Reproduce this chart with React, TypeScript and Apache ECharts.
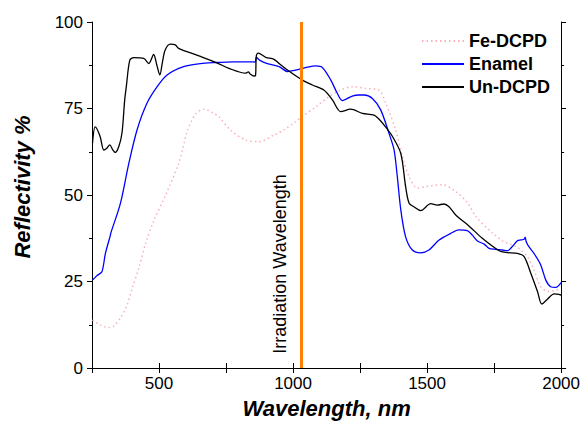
import React, { useEffect, useRef } from "react";
import * as echarts from "echarts";

// ---- Data ----
const xTickLabels = [500, 1000, 1500, 2000];
const yTickLabels = [0, 25, 50, 75, 100];
const irradiationNm = 1030;

const feDcpdNm = [252, 281, 313, 330, 356, 380, 400, 425, 450, 480, 525, 575, 606, 637, 668, 704, 724, 766, 823, 873, 928, 965, 1010, 1029, 1085, 1134, 1172, 1221, 1271, 1321, 1346, 1383, 1408, 1433, 1464, 1495, 1557, 1607, 1650, 1682, 1744, 1787, 1837, 1874, 1899, 1924, 1955, 2000];
const feDcpdVal = [13.9, 12.4, 11.7, 12.0, 14.5, 18, 23, 29, 36, 42.5, 50, 59.5, 68.5, 73.5, 74.8, 73.6, 72.6, 68.8, 65.9, 65.4, 67.3, 68.8, 71.2, 72.4, 75.5, 78.4, 80.1, 81.3, 80.8, 80.3, 76.5, 68.8, 61.1, 55.3, 52.0, 52.4, 53.0, 51.0, 47.8, 43.8, 39.0, 36.5, 34.9, 32.2, 28.3, 23.5, 22.1, 23.0];

const enamelNm = [252, 270, 287, 300, 318, 321, 356, 387, 418, 455, 493, 530, 592, 654, 716, 773, 854, 859, 863, 875, 904, 948, 979, 1010, 1047, 1085, 1110, 1141, 1165, 1184, 1221, 1246, 1265, 1296, 1327, 1358, 1377, 1389, 1402, 1420, 1445, 1476, 1507, 1545, 1588, 1619, 1650, 1669, 1688, 1713, 1731, 1756, 1781, 1800, 1818, 1837, 1850, 1862, 1866, 1870, 1878, 1899, 1924, 1943, 1961, 1980, 2000];
const enamelVal = [25.4, 26.8, 27.8, 33.1, 38.2, 39.2, 47.6, 59.0, 68.8, 76.5, 81.3, 84.7, 87.1, 88.0, 88.3, 88.5, 88.5, 88.4, 89.8, 89.0, 88.0, 87.1, 85.7, 86.1, 86.8, 87.3, 86.8, 83.2, 79.4, 77.3, 78.6, 78.9, 78.9, 77.9, 74.6, 67.8, 63.0, 55.3, 45.7, 37.9, 34.1, 33.3, 34.1, 37.0, 38.9, 39.9, 39.7, 38.4, 36.7, 35.8, 34.6, 34.3, 34.1, 33.9, 35.1, 36.8, 37.0, 37.2, 37.8, 36.5, 35.3, 33.1, 29.8, 25.4, 23.5, 23.3, 24.7];

const unDcpdNm = [252, 262, 280, 294, 305, 316, 328, 337, 350, 362, 372, 378, 391, 406, 443, 462, 480, 492, 503, 513, 523, 542, 561, 573, 649, 716, 761, 823, 833, 840, 854, 860, 863, 870, 898, 929, 948, 979, 1035, 1072, 1116, 1147, 1178, 1215, 1259, 1302, 1321, 1340, 1371, 1402, 1420, 1433, 1451, 1476, 1514, 1538, 1563, 1582, 1607, 1657, 1706, 1769, 1794, 1837, 1862, 1887, 1912, 1928, 1949, 1974, 2000];
const unDcpdVal = [65.0, 69.7, 67.0, 63.0, 63.5, 64.5, 63.0, 62.3, 64.0, 68.0, 77.5, 81.3, 89.0, 89.7, 89.5, 88.0, 90.6, 87.5, 84.7, 88.5, 91.9, 93.6, 93.4, 92.4, 90.2, 88.2, 86.6, 85.2, 85.6, 85.0, 84.4, 84.5, 90.2, 91.0, 89.8, 89.2, 88.0, 86.1, 83.2, 81.8, 80.3, 77.5, 74.1, 74.8, 73.6, 73.1, 71.9, 70.2, 66.9, 62.0, 52.4, 47.6, 46.6, 45.5, 47.5, 47.1, 47.4, 46.6, 44.2, 41.0, 37.5, 33.9, 33.4, 33.1, 32.2, 27.4, 22.1, 18.5, 19.9, 21.4, 21.1];

const zip = (xs: number[], ys: number[]) => xs.map((x, i) => [x, ys[i]]);

const FONT = "Arial, 'Liberation Sans', sans-serif";

export default function App() {
  const ref = useRef<HTMLDivElement>(null);
  useEffect(() => {
    if (!ref.current) return;
    const chart = echarts.init(ref.current, undefined, { renderer: "svg" });
    const axisLine = { show: true, lineStyle: { color: "#000", width: 1 } };
    const xCommon = {
      type: "value" as const,
      min: 250,
      max: 2000,
      interval: 250,
      splitLine: { show: false },
      axisLine,
      axisTick: { show: true, length: 5, lineStyle: { color: "#000" } },
    };
    const yCommon = {
      type: "value" as const,
      min: 0,
      max: 100,
      interval: 25,
      splitLine: { show: false },
      axisLine,
      axisTick: { show: true, length: 5, lineStyle: { color: "#000" } },
      minorTick: { show: true, splitNumber: 2, length: 3, lineStyle: { color: "#000" } },
    };
    chart.setOption({
      animation: false,
      backgroundColor: "#fff",
      grid: { left: 92, right: 20, top: 22, bottom: 64, containLabel: false },
      legend: {
        orient: "vertical",
        left: 416,
        top: 27,
        itemWidth: 42,
        itemHeight: 14,
        itemGap: 5,
        itemStyle: { opacity: 0 },
        textStyle: { fontSize: 18, fontWeight: "bold", fontFamily: FONT, color: "#000", lineHeight: 18 },
        data: ["Fe-DCPD", "Enamel", "Un-DCPD"],
      },
      xAxis: [
        {
          ...xCommon,
          position: "bottom",
          axisLabel: {
            show: true,
            margin: 7,
            fontSize: 17,
            fontFamily: FONT,
            color: "#000",
            formatter: (v: number) => (xTickLabels.includes(v) ? String(v) : ""),
          },
          name: "Wavelength, nm",
          nameLocation: "middle",
          nameGap: 29,
          nameTextStyle: { fontSize: 22, fontWeight: "bold", fontStyle: "italic", fontFamily: FONT, color: "#000" },
        },
        { ...xCommon, position: "top", axisLabel: { show: false } },
      ],
      yAxis: [
        {
          ...yCommon,
          position: "left",
          axisLabel: {
            show: true,
            margin: 9,
            fontSize: 17,
            fontFamily: FONT,
            color: "#000",
            formatter: (v: number) => (yTickLabels.includes(v) ? String(v) : ""),
          },
        },
        { ...yCommon, position: "right", axisLabel: { show: false } },
      ],
      graphic: [
        {
          type: "text",
          x: 22,
          y: 187,
          rotation: Math.PI / 2,
          style: {
            text: "Reflectivity %",
            fontSize: 22,
            fontWeight: "bold",
            fontStyle: "italic",
            fontFamily: FONT,
            fill: "#000",
            align: "center",
            verticalAlign: "middle",
          },
        },
        {
          type: "text",
          x: 280,
          y: 264,
          rotation: Math.PI / 2,
          z: 10,
          style: {
            text: "Irradiation Wavelength",
            fontSize: 18,
            fontFamily: FONT,
            fill: "#000",
            align: "center",
            verticalAlign: "middle",
          },
        },
      ],
      series: [
        {
          name: "Fe-DCPD",
          type: "line",
          symbol: "none",
          smooth: 0.3,
          data: zip(feDcpdNm, feDcpdVal),
          lineStyle: { color: "#f9b0bb", width: 1.5, type: [1.5, 3] },
          itemStyle: { color: "#f9b0bb" },
          z: 2,
        },
        {
          name: "Enamel",
          type: "line",
          symbol: "none",
          smooth: 0.3,
          data: zip(enamelNm, enamelVal),
          lineStyle: { color: "#0000ff", width: 1.3 },
          itemStyle: { color: "#0000ff" },
          z: 3,
        },
        {
          name: "Un-DCPD",
          type: "line",
          symbol: "none",
          smooth: 0.3,
          data: zip(unDcpdNm, unDcpdVal),
          lineStyle: { color: "#000000", width: 1.3 },
          itemStyle: { color: "#000000" },
          z: 4,
          markLine: {
            silent: true,
            symbol: "none",
            label: { show: false },
            lineStyle: { color: "#ff7f00", width: 3, type: "solid" },
            data: [{ xAxis: irradiationNm }],
          },
        },
      ],
    });
    return () => chart.dispose();
  }, []);
  return (
    <div
      ref={ref}
      style={{ position: "fixed", left: 0, top: 0, width: 583, height: 432, background: "#fff" }}
    />
  );
}
